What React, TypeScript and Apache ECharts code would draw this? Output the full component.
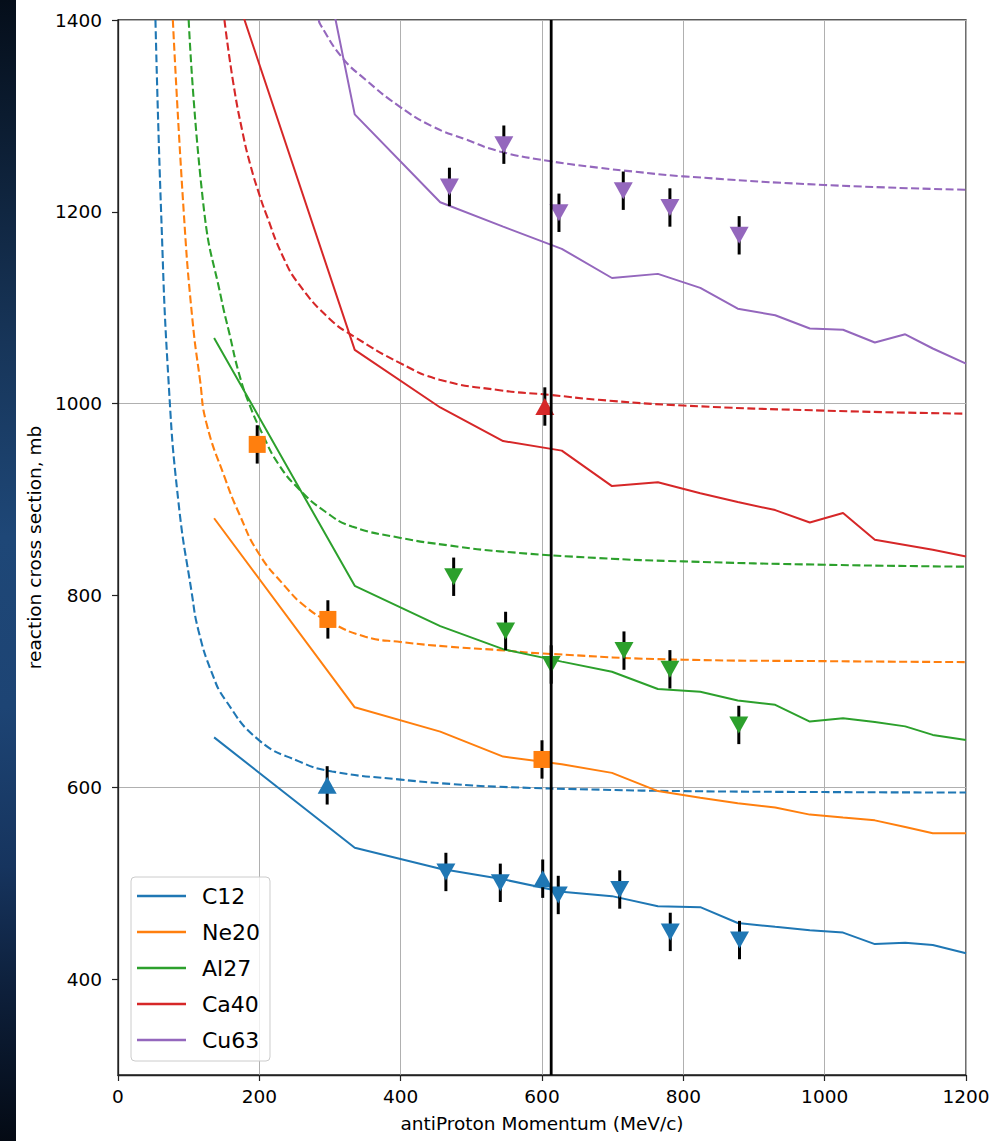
import React, { useEffect, useRef } from "react";
import * as echarts from "echarts";

// ---------- data ----------
const xTicks = [0, 200, 400, 600, 800, 1000, 1200];
const yTicks = [400, 600, 800, 1000, 1200, 1400];

const legendNames = ["C12", "Ne20", "Al27", "Ca40", "Cu63"];
const colors = ["#1f77b4", "#ff7f0e", "#2ca02c", "#d62728", "#9467bd"];

// model (solid) curves on a common momentum grid
const momentum = [136, 335, 456, 545, 628, 699, 764, 824, 877, 930, 979, 1026, 1071, 1114, 1153, 1200];
const c12Model = [652, 537, 515, 504, 491, 486.5, 476, 475, 458.5, 454.5, 451, 448.5, 436.5, 438, 435.5, 427];
const ne20Model = [880.5, 683.4, 658, 632, 624, 615, 596, 589, 583.3, 579, 571.5, 568.4, 565.5, 558.5, 552, 552];
const al27Model = [1068.5, 810, 768, 744, 731, 720.5, 702.5, 699.5, 690.5, 686, 668.5, 672, 668, 663.5, 654.6, 649.4];
const ca40Model = [1495, 1056, 996, 961, 951, 914, 918, 906.5, 897.5, 889, 876, 886, 858, 852.5, 847.6, 840.7];
const cu63Model = [2025, 1301.6, 1210, 1184.5, 1161.4, 1131, 1135.3, 1120.7, 1099, 1092.2, 1078.3, 1077, 1063.7, 1072.3, 1057.5, 1041.7];

// dashed (theory) curves
const c12TheoryX = [53, 61, 71.4, 85.6, 104.5, 114, 133, 152, 199, 256, 303, 400, 470, 540, 682, 800, 1000, 1200];
const c12TheoryY = [1400, 1200, 1025, 897, 802, 763, 719, 691, 649.4, 627, 616.5, 608, 603.5, 600.5, 597.5, 596, 595, 594.5];
const ne20TheoryX = [77.6, 93, 105, 116, 125, 152, 171, 199, 237, 265, 298, 350, 400, 470, 540, 600, 800, 1000, 1200];
const ne20TheoryY = [1400, 1200, 1090, 1025, 980, 921, 886, 844, 809, 788.5, 773, 757, 751.5, 746.5, 743, 739.5, 733, 731.5, 730.5];
const al27TheoryX = [100, 122, 146, 158, 171, 185, 204, 227, 256, 294, 331, 400, 470, 540, 680, 800, 1000, 1200];
const al27TheoryY = [1400, 1200, 1110, 1072, 1032, 1001, 969, 937, 911, 887, 872, 860, 852, 846, 839, 835.5, 832, 830];
const ca40TheoryX = [150.6, 163, 176.5, 188, 200, 209, 233, 256.5, 300, 334, 400, 455, 540, 613, 680, 800, 1000, 1200];
const ca40TheoryY = [1400, 1335, 1282, 1247, 1218, 1199, 1154, 1124, 1088, 1070, 1042, 1025, 1014, 1009, 1004, 998, 992.7, 989.5];
const cu63TheoryX = [284, 286.5, 317, 350, 398, 445, 492, 540, 610, 680, 729, 800, 1000, 1200];
const cu63TheoryY = [1400, 1395, 1361, 1338, 1310, 1289, 1275.5, 1263, 1253, 1246, 1242, 1237, 1228, 1223];

// experimental points: kind "^" up-triangle, "v" down-triangle, "s" square
const c12ExpX = [296, 464, 541, 601, 623, 710, 781.5, 879.5];
const c12ExpY = [602, 511.7, 500.4, 504.7, 487.7, 493.4, 449.2, 440.7];
const c12ExpErr = [20, 20, 20, 20, 20, 20, 20, 20];
const c12ExpKind = ["^", "v", "v", "^", "v", "v", "v", "v"];
const ne20ExpX = [197, 297, 600];
const ne20ExpY = [957.5, 775, 629];
const ne20ExpErr = [20, 20, 20];
const ne20ExpKind = ["s", "s", "s"];
const al27ExpX = [475, 548.5, 613, 716, 781, 878.5];
const al27ExpY = [819.5, 763, 728, 742.5, 723, 665];
const al27ExpErr = [20, 20, 20, 20, 20, 20];
const al27ExpKind = ["v", "v", "v", "v", "v", "v"];
const ca40ExpX = [604];
const ca40ExpY = [997];
const ca40ExpErr = [20];
const ca40ExpKind = ["^"];
const cu63ExpX = [469, 546, 624, 715, 781, 879];
const cu63ExpY = [1226, 1270, 1199, 1222, 1204.5, 1175.5];
const cu63ExpErr = [20, 20, 20, 20, 20, 20];
const cu63ExpKind = ["v", "v", "v", "v", "v", "v"];

const verticalLineX = 613;

// ---------- build ----------
const models = [c12Model, ne20Model, al27Model, ca40Model, cu63Model];
const theories = [
  [c12TheoryX, c12TheoryY],
  [ne20TheoryX, ne20TheoryY],
  [al27TheoryX, al27TheoryY],
  [ca40TheoryX, ca40TheoryY],
  [cu63TheoryX, cu63TheoryY],
];
const exps = [
  [c12ExpX, c12ExpY, c12ExpErr, c12ExpKind],
  [ne20ExpX, ne20ExpY, ne20ExpErr, ne20ExpKind],
  [al27ExpX, al27ExpY, al27ExpErr, al27ExpKind],
  [ca40ExpX, ca40ExpY, ca40ExpErr, ca40ExpKind],
  [cu63ExpX, cu63ExpY, cu63ExpErr, cu63ExpKind],
];

const FONT = "DejaVu Sans";

function buildOption() {
  const series: any[] = [];
  legendNames.forEach((name, i) => {
    series.push({
      type: "line",
      name,
      data: momentum.map((x, k) => [x, models[i][k]]),
      showSymbol: false,
      symbol: "none",
      color: colors[i],
      lineStyle: { color: colors[i], width: 2 },
      z: 3,
    });
  });
  legendNames.forEach((name, i) => {
    const [tx, ty] = theories[i];
    series.push({
      type: "line",
      name: name + " theory",
      data: tx.map((x, k) => [x, ty[k]]),
      showSymbol: false,
      symbol: "none",
      smooth: 0.5,
      color: colors[i],
      lineStyle: { color: colors[i], width: 2.1, type: [8, 3.5] },
      z: 2,
    });
  });
  legendNames.forEach((name, i) => {
    const [ex, ey, ee] = exps[i] as any;
    series.push({
      type: "custom",
      name: name + " errors",
      data: ex.map((x: number, k: number) => [x, ey[k], ee[k]]),
      encode: { x: 0, y: 1 },
      z: 4,
      renderItem: (params: any, api: any) => {
        const x = api.value(0);
        const y = api.value(1);
        const e = api.value(2);
        const p1 = api.coord([x, y - e]);
        const p2 = api.coord([x, y + e]);
        return {
          type: "line",
          shape: { x1: p1[0], y1: p1[1], x2: p2[0], y2: p2[1] },
          style: { stroke: "#000", lineWidth: 3 },
        };
      },
    });
  });
  legendNames.forEach((name, i) => {
    const [ex, ey, , kind] = exps[i] as any;
    series.push({
      type: "scatter",
      name: name + " data",
      z: 5,
      itemStyle: { color: colors[i], opacity: 1 },
      data: ex.map((x: number, k: number) => {
        const kd = kind[k];
        if (kd === "s") return { value: [x, ey[k]], symbol: "rect", symbolSize: 17 };
        if (kd === "^") return { value: [x, ey[k]], symbol: "triangle", symbolSize: [19, 17], symbolRotate: 0 };
        return { value: [x, ey[k]], symbol: "triangle", symbolSize: [19, 17], symbolRotate: 180 };
      }),
    });
  });
  series.push({
    type: "line",
    name: "vline",
    data: [
      [verticalLineX, 300],
      [verticalLineX, 1400],
    ],
    showSymbol: false,
    symbol: "none",
    lineStyle: { color: "#000", width: 2.8 },
    z: 10,
  });

  return {
    animation: false,
    backgroundColor: "#ffffff",
    textStyle: { fontFamily: FONT },
    graphic: [
      {
        type: "rect",
        left: 0,
        top: 0,
        z: -10,
        silent: true,
        shape: { x: 0, y: 0, width: 16, height: 1141 },
        style: {
          fill: new echarts.graphic.LinearGradient(0, 0, 0, 1, [
            { offset: 0, color: "#050e1a" },
            { offset: 0.3, color: "#173559" },
            { offset: 0.47, color: "#1e4777" },
            { offset: 0.62, color: "#1d4474" },
            { offset: 0.76, color: "#16345e" },
            { offset: 0.87, color: "#0d1f3a" },
            { offset: 1, color: "#040a14" },
          ]),
        },
      },
    ],
    grid: {
      left: 118,
      top: 20,
      width: 848,
      height: 1055,
      show: true,
      borderColor: "#222",
      borderWidth: 1.3,
      backgroundColor: "transparent",
    },
    legend: {
      data: legendNames,
      orient: "vertical",
      left: 131,
      top: 877,
      padding: [8, 10, 10, 6],
      itemGap: 14,
      itemWidth: 49,
      itemHeight: 2.5,
      icon: "rect",
      backgroundColor: "rgba(255,255,255,0.8)",
      borderColor: "#cccccc",
      borderWidth: 1,
      borderRadius: 4,
      textStyle: { fontFamily: FONT, fontSize: 22, color: "#000", lineHeight: 22, padding: [0, 0, 0, 11] },
    },
    xAxis: {
      type: "value",
      min: xTicks[0],
      max: xTicks[xTicks.length - 1],
      interval: 200,
      name: "antiProton Momentum (MeV/c)",
      nameLocation: "middle",
      nameGap: 39,
      nameTextStyle: { fontFamily: FONT, fontSize: 18.5, color: "#000" },
      axisLine: { show: true, onZero: false, lineStyle: { color: "#222", width: 1.3 } },
      axisTick: { show: true, length: 6, lineStyle: { color: "#222", width: 1.2 } },
      axisLabel: {
        fontFamily: FONT,
        fontSize: 18.5,
        color: "#000",
        margin: 12,
        formatter: (v: number) => String(v),
      },
      splitLine: { show: true, lineStyle: { color: "#b0b0b0", width: 1 } },
    },
    yAxis: {
      type: "value",
      min: 300,
      max: 1400,
      interval: 100,
      name: "reaction cross section, mb",
      nameLocation: "middle",
      nameRotate: 90,
      nameGap: 74,
      nameTextStyle: { fontFamily: FONT, fontSize: 18.5, color: "#000" },
      axisLine: { show: true, onZero: false, lineStyle: { color: "#222", width: 1.3 } },
      axisTick: { show: true, length: 6, customValues: yTicks, lineStyle: { color: "#222", width: 1.2 } },
      axisLabel: {
        fontFamily: FONT,
        fontSize: 18.5,
        color: "#000",
        margin: 16,
        customValues: yTicks,
        formatter: (v: number) => (yTicks.indexOf(v) >= 0 ? String(v) : ""),
      },
      splitLine: { show: true, lineStyle: { color: ["rgba(0,0,0,0)", "#b0b0b0"], width: 1 } },
    },
    series,
  };
}

export default function App() {
  const ref = useRef<HTMLDivElement>(null);
  useEffect(() => {
    if (!ref.current) return;
    const chart = echarts.init(ref.current, undefined, { renderer: "svg" });
    chart.setOption(buildOption() as any);
    return () => chart.dispose();
  }, []);
  return (
    <div
      ref={ref}
      style={{ position: "absolute", left: 0, top: 0, width: 996, height: 1141, background: "#fff" }}
    />
  );
}
